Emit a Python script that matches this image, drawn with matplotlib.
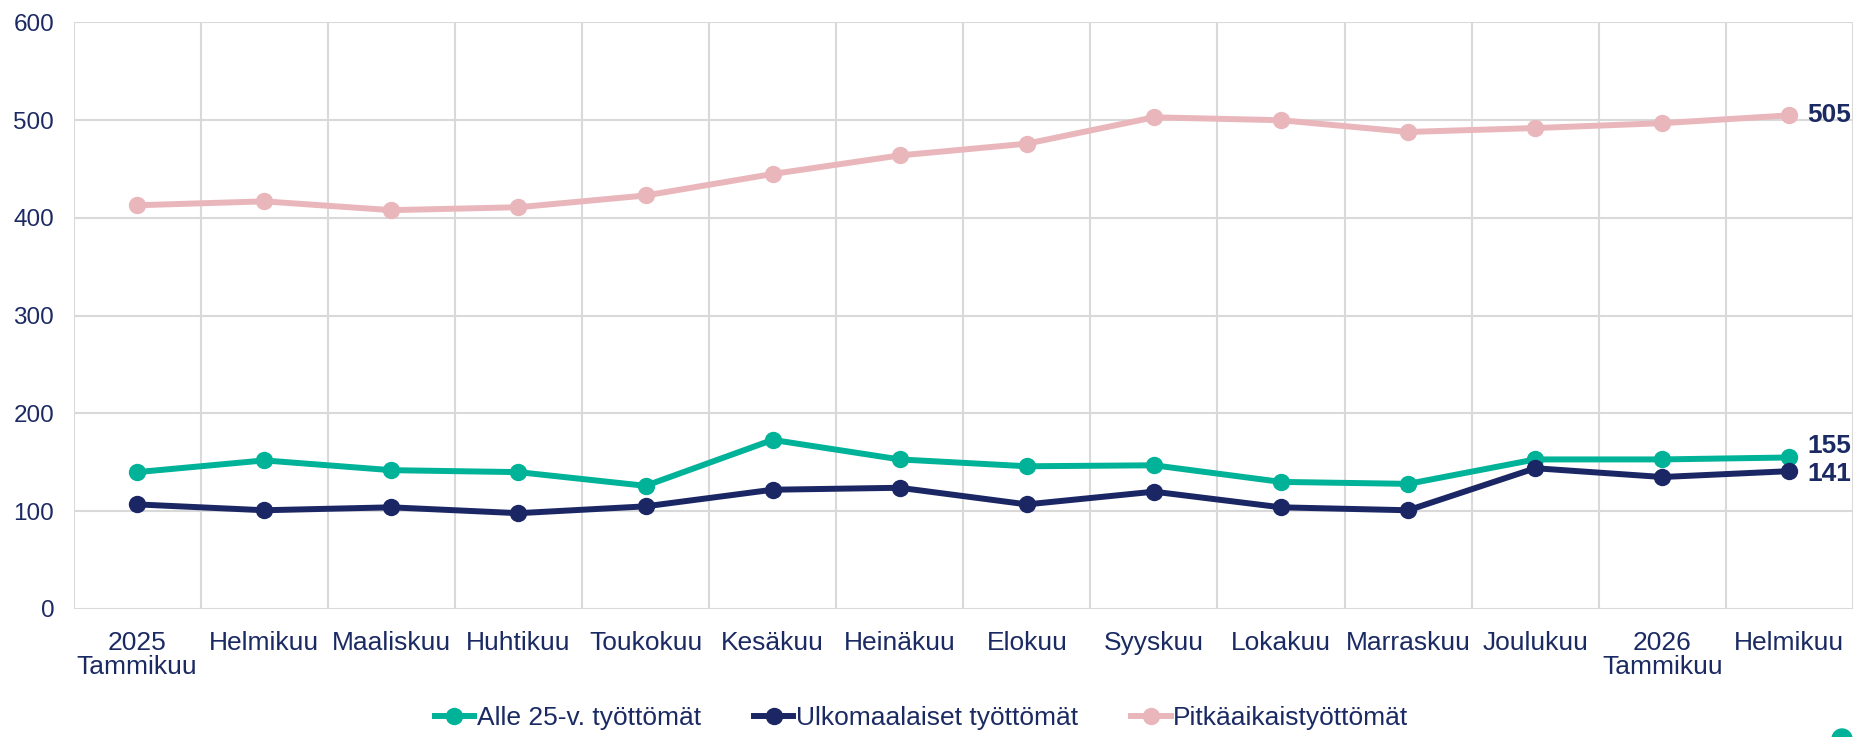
import matplotlib.pyplot as plt
from matplotlib.patches import Ellipse
import numpy as np

plt.rcParams['font.family'] = ['Liberation Sans', 'DejaVu Sans']

months = ["2025\nTammikuu", "Helmikuu", "Maaliskuu", "Huhtikuu", "Toukokuu", "Kesäkuu",
          "Heinäkuu", "Elokuu", "Syyskuu", "Lokakuu", "Marraskuu", "Joulukuu",
          "2026\nTammikuu", "Helmikuu"]

alle25 = [140, 152, 142, 140, 126, 173, 153, 146, 147, 130, 128, 153, 153, 155]
ulkomaalaiset = [107, 101, 104, 98, 105, 122, 124, 107, 120, 104, 101, 144, 135, 141]
pitkaaikais = [413, 417, 408, 411, 423, 445, 464, 476, 503, 500, 488, 492, 497, 505]

teal = "#00B398"
navy = "#1B2765"
pink = "#E9B7BB"
text_col = "#1B2A63"

fig = plt.figure(figsize=(18.58, 7.37), dpi=100)
ax = fig.add_axes([0.0396, 0.1737, 0.9577, 0.7958])

x = np.arange(len(months))
ax.plot(x, alle25, color=teal, lw=4.3, marker="o", ms=11.5, label="Alle 25-v. työttömät", zorder=3)
ax.plot(x, ulkomaalaiset, color=navy, lw=4.3, marker="o", ms=11.5, label="Ulkomaalaiset työttömät", zorder=3)
ax.plot(x, pitkaaikais, color=pink, lw=4.3, marker="o", ms=11.5, label="Pitkäaikaistyöttömät", zorder=3)

ax.set_xlim(-0.5, len(months) - 0.5)
ax.set_ylim(0, 600)
ax.set_yticks(range(0, 601, 100))
ax.set_xticks(x)
ax.set_xticklabels(months, fontsize=19, color=text_col, linespacing=1.0)
ax.set_xticks(np.arange(-0.5, len(months)), minor=True)
ax.tick_params(axis="x", which="both", length=0, pad=16)
ax.tick_params(axis="y", length=0, pad=14, labelsize=17.5, labelcolor=text_col)
ax.grid(axis="y", color="#D9D9D9", lw=1.5)
ax.grid(axis="x", which="minor", color="#D9D9D9", lw=1.5)
ax.grid(axis="x", which="major", visible=False)
for s in ax.spines.values():
    s.set_visible(False)
ax.set_axisbelow(True)

# end labels
last = len(months) - 1
for val, dy in [(pitkaaikais[last], 0), (alle25[last], 8), (ulkomaalaiset[last], -2)]:
    ax.annotate(str(val), (last, val), xytext=(13, dy), textcoords="offset points",
                fontsize=19, fontweight="bold", color=text_col, va="center", ha="left",
                annotation_clip=False)

leg = fig.legend(loc="center", bbox_to_anchor=(0.496, 0.026), ncol=3, frameon=False,
                 fontsize=19, handlelength=1.5, handletextpad=0.1, columnspacing=2.0)
for t in leg.get_texts():
    t.set_color(text_col)

# small green dot in bottom right corner
fig.patches.append(Ellipse((1842 / 1858, -2 / 737), 20 / 1858, 20 / 737,
                           transform=fig.transFigure, color=teal, clip_on=False))

fig.savefig("out.png", dpi=100)
